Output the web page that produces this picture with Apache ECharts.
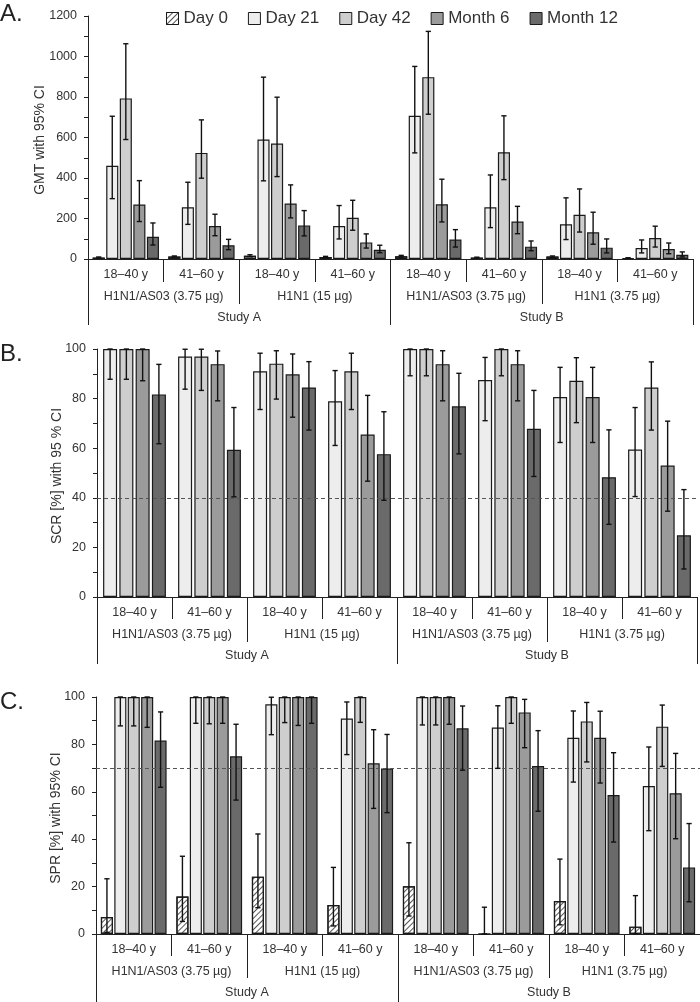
<!DOCTYPE html>
<html><head><meta charset="utf-8">
<script src="https://cdn.jsdelivr.net/npm/echarts@6/dist/echarts.min.js"></script>
<style>html,body{margin:0;padding:0;background:#fff}#c{width:700px;height:1002px}</style>
</head><body><div id="c"></div>
<script>
// ---------- categories ----------
const ageGroups = ['18–40 y','41–60 y','18–40 y','41–60 y','18–40 y','41–60 y','18–40 y','41–60 y'];
const vaccineGroups = ['H1N1/AS03 (3.75 µg)','H1N1 (15 µg)','H1N1/AS03 (3.75 µg)','H1N1 (3.75 µg)'];
const studies = ['Study A','Study B'];
const timepoints = ['Day 0','Day 21','Day 42','Month 6','Month 12'];
const panelLetters = ['A.','B.','C.'];
const yTitles = ['GMT with 95% CI','SCR [%] with 95 % CI','SPR [%] with 95% CI'];

// ---------- Panel A: GMT ----------
const gmtDay0    = [7, 12, 16, 10, 13, 7, 12, 5];
const gmtDay0Lo  = [5, 9, 11, 7, 9, 5, 8, 4];
const gmtDay0Hi  = [10, 15, 21, 13, 18, 9, 15, 6];
const gmtDay21   = [460, 255, 590, 163, 707, 255, 171, 54];
const gmtDay21Lo = [298, 171, 386, 99, 524, 155, 96, 30];
const gmtDay21Hi = [705, 379, 898, 264, 951, 415, 302, 94];
const gmtDay42   = [793, 524, 570, 204, 898, 527, 218, 104];
const gmtDay42Lo = [590, 399, 407, 142, 715, 392, 133, 59];
const gmtDay42Hi = [1063, 687, 799, 290, 1124, 707, 346, 162];
const gmtM6      = [269, 163, 274, 82, 270, 185, 132, 49];
const gmtM6Lo    = [185, 115, 203, 54, 183, 125, 73, 26];
const gmtM6Hi    = [387, 221, 366, 124, 394, 260, 231, 79];
const gmtM12     = [110, 68, 166, 46, 96, 61, 56, 21];
const gmtM12Lo   = [69, 46, 114, 31, 59, 41, 30, 10];
const gmtM12Hi   = [178, 97, 239, 68, 145, 89, 99, 35];

// ---------- Panel B: SCR ----------
const scrDay21   = [100, 97.0, 91.0, 78.9, 100, 87.5, 80.6, 59.5];
const scrDay21Lo = [87.8, 83.8, 75.6, 61.1, 89.2, 71.1, 62.3, 40.5];
const scrDay21Hi = [100, 99.9, 98.3, 91.3, 100, 96.6, 92.6, 76.4];
const scrDay42   = [100, 97.0, 94.1, 91.0, 100, 100, 87.2, 84.5];
const scrDay42Lo = [87.8, 83.3, 79.8, 75.6, 89.2, 89.2, 70.3, 67.3];
const scrDay42Hi = [100, 99.9, 99.3, 98.3, 100, 100, 96.5, 94.8];
const scrM6      = [100, 93.9, 89.8, 65.5, 93.9, 93.9, 80.6, 53.0];
const scrM6Lo    = [87.2, 79.1, 72.5, 46.7, 79.1, 79.1, 62.3, 34.6];
const scrM6Hi    = [100, 99.2, 98.0, 81.3, 99.3, 99.3, 92.6, 70.9];
const scrM12     = [81.7, 59.4, 84.5, 57.6, 76.9, 67.8, 48.3, 24.9];
const scrM12Lo   = [61.8, 40.4, 67.3, 39.0, 57.7, 48.6, 29.3, 11.3];
const scrM12Hi   = [93.8, 76.4, 94.9, 74.7, 90.2, 83.3, 67.4, 43.3];
const scrThreshold = 40;

// ---------- Panel C: SPR ----------
const sprDay0    = [7.2, 15.8, 24.2, 12.2, 20.1, 0, 13.9, 3.1];
const sprDay0Lo  = [0.7, 5.3, 11.1, 3.4, 7.6, 0, 3.9, 0.1];
const sprDay0Hi  = [23.3, 32.8, 42.2, 28.1, 38.5, 11.3, 31.6, 16.2];
const sprDay21   = [100, 100, 96.9, 90.9, 100, 87.1, 82.8, 62.4];
const sprDay21Lo = [87.8, 88.9, 84.1, 75.7, 88.2, 69.9, 64.1, 43.6];
const sprDay21Hi = [100, 100, 99.9, 97.9, 100, 96.3, 94.1, 78.9];
const sprDay42   = [100, 100, 100, 100, 100, 100, 89.7, 87.5];
const sprDay42Lo = [87.8, 88.7, 89.2, 89.3, 88.2, 88.9, 72.6, 70.7];
const sprDay42Hi = [100, 100, 100, 100, 100, 100, 97.7, 96.6];
const sprM6      = [100, 100, 100, 72.0, 100, 93.5, 82.8, 59.4];
const sprM6Lo    = [87.2, 88.9, 88.0, 53.0, 88.5, 78.6, 63.7, 40.2];
const sprM6Hi    = [100, 100, 100, 86.2, 100, 99.0, 94.0, 76.2];
const sprM12     = [81.6, 75.0, 100, 69.8, 86.8, 70.9, 58.6, 28.1];
const sprM12Lo   = [61.9, 56.5, 88.9, 51.2, 69.1, 51.8, 38.8, 13.6];
const sprM12Hi   = [93.7, 88.5, 100, 84.2, 96.2, 85.8, 76.5, 46.6];
const sprThreshold = 70;

// ---------- styling ----------
const FONT = '"Liberation Sans", Arial, Helvetica, sans-serif';
const TXT = '#333';
const LINE = '#222';
const fills = {'Day 0':'#ffffff','Day 21':'#ededed','Day 42':'#cecece','Month 6':'#9b9b9b','Month 12':'#6a6a6a'};
const hatch = {symbol:'rect', symbolSize:1, color:'#555', dashArrayX:[1,0], dashArrayY:[1,2.2], rotation:-Math.PI/4};

const grids = [
  {left:88, top:16, width:605, height:243},
  {left:97, top:349, width:600, height:248},
  {left:96, top:697, width:604, height:237}
];
const tickLens = [[23,45,66],[22,45,67],[22,44,68]];
const barLayout = [{bw:0.16, gap:0.12},{bw:0.187, gap:0.16},{bw:0.16, gap:0.11}];
const titlePos = [[40,140],[57,476],[56,818]];
const letterTop = [2, 342, 690];

const panels = [
  {max:1200, interval:200, threshold:null, series:[
    ['Day 0', gmtDay0, gmtDay0Lo, gmtDay0Hi],
    ['Day 21', gmtDay21, gmtDay21Lo, gmtDay21Hi],
    ['Day 42', gmtDay42, gmtDay42Lo, gmtDay42Hi],
    ['Month 6', gmtM6, gmtM6Lo, gmtM6Hi],
    ['Month 12', gmtM12, gmtM12Lo, gmtM12Hi]]},
  {max:100, interval:20, threshold:scrThreshold, series:[
    ['Day 21', scrDay21, scrDay21Lo, scrDay21Hi],
    ['Day 42', scrDay42, scrDay42Lo, scrDay42Hi],
    ['Month 6', scrM6, scrM6Lo, scrM6Hi],
    ['Month 12', scrM12, scrM12Lo, scrM12Hi]]},
  {max:100, interval:20, threshold:sprThreshold, series:[
    ['Day 0', sprDay0, sprDay0Lo, sprDay0Hi],
    ['Day 21', sprDay21, sprDay21Lo, sprDay21Hi],
    ['Day 42', sprDay42, sprDay42Lo, sprDay42Hi],
    ['Month 6', sprM6, sprM6Lo, sprM6Hi],
    ['Month 12', sprM12, sprM12Lo, sprM12Hi]]}
];

const xAxis = [], yAxis = [], series = [];
function catAxis(gi, data, len, margin, showLine) {
  return {
    gridIndex: gi, type:'category', data: data, position:'bottom', offset:0,
    axisLine:{show:showLine, onZero:false, lineStyle:{color:LINE, width:1}},
    axisTick:{show:true, length:len, alignWithLabel:false, interval:0, lineStyle:{color:LINE, width:1}},
    axisLabel:{show:true, interval:0, margin:margin, fontSize:12.5, color:TXT, fontFamily:FONT, hideOverlap:false},
    splitLine:{show:false}
  };
}

function errRender(n, idx, bwFrac, gapFrac) {
  return function(params, api) {
    const x = api.value(0), lo = api.value(1), hi = api.value(2);
    const band = api.size([1, 0])[0];
    const bw = band * bwFrac, step = bw * (1 + gapFrac);
    const off = (idx - (n - 1) / 2) * step;
    const pLo = api.coord([x, lo]), pHi = api.coord([x, hi]);
    const cx = pLo[0] + off, cap = 2.6;
    const st = {stroke:'#111', lineWidth:1.4};
    return {type:'group', children:[
      {type:'line', shape:{x1:cx, y1:pLo[1], x2:cx, y2:pHi[1]}, style:st},
      {type:'line', shape:{x1:cx-cap, y1:pHi[1], x2:cx+cap, y2:pHi[1]}, style:st},
      {type:'line', shape:{x1:cx-cap, y1:pLo[1], x2:cx+cap, y2:pLo[1]}, style:st}
    ]};
  };
}

panels.forEach((p, gi) => {
  const xi = xAxis.length;
  xAxis.push(catAxis(gi, ageGroups, tickLens[gi][0], 9, true));
  xAxis.push(catAxis(gi, vaccineGroups, tickLens[gi][1], 31, false));
  xAxis.push(catAxis(gi, studies, tickLens[gi][2], 52, false));
  yAxis.push({
    gridIndex: gi, type:'value', min:0, max:p.max, interval:p.interval,
    axisLine:{show:true, lineStyle:{color:LINE, width:1}},
    axisTick:{show:true, length:4, lineStyle:{color:LINE}},
    minorTick:{show:true, splitNumber:2, length:4, lineStyle:{color:LINE}},
    splitLine:{show:false}, minorSplitLine:{show:false},
    axisLabel:{margin:11, fontSize:12.5, color:TXT, fontFamily:FONT, formatter: v => String(v)}
  });
  const n = p.series.length;
  const L = barLayout[gi];
  p.series.forEach((s, idx) => {
    const [name, vals, lo, hi] = s;
    const bar = {
      name: name, type:'bar', xAxisIndex: xi, yAxisIndex: gi,
      data: vals, barWidth: (L.bw*100)+'%', barGap: (L.gap*100)+'%',
      itemStyle:{color:fills[name], borderColor:'#1a1a1a', borderWidth:1.2},
      emphasis:{disabled:true}, z:2
    };
    if (name === 'Day 0') bar.itemStyle.decal = hatch;
    if (idx === 0 && p.threshold !== null) {
      bar.markLine = {silent:true, symbol:['none','none'], label:{show:false},
        lineStyle:{color:'#555', type:[4,3], width:1}, data:[{yAxis:p.threshold}]};
    }
    series.push(bar);
    series.push({
      name: 'err-'+name, type:'custom', xAxisIndex: xi, yAxisIndex: gi,
      data: vals.map((v, i) => [i, lo[i], hi[i]]),
      encode:{x:0, y:[1,2]}, renderItem: errRender(n, idx, L.bw, L.gap), z:5, silent:true
    });
  });
});

const graphics = [];
panelLetters.forEach((t, i) => graphics.push({
  type:'text', left:0, top:letterTop[i],
  style:{text:t, fontSize:24, fill:'#222', fontFamily:FONT}
}));
yTitles.forEach((t, i) => graphics.push({
  type:'text', x:titlePos[i][0], y:titlePos[i][1], rotation:Math.PI/2,
  style:{text:t, fontSize:14, fill:TXT, fontFamily:FONT, align:'center', verticalAlign:'middle'}
}));

const chart = echarts.init(document.getElementById('c'), null, {renderer:'canvas'});
chart.setOption({
  animation:false,
  backgroundColor:'#fff',
  grid: grids.map(g => Object.assign({containLabel:false, outerBoundsMode:'none'}, g)),
  xAxis: xAxis, yAxis: yAxis, series: series,
  legend:{
    data: timepoints, left:161, top:5, icon:'rect', itemWidth:12, itemHeight:12, itemGap:20,
    textStyle:{fontSize:17, color:TXT, fontFamily:FONT},
    itemStyle:{borderColor:'#1a1a1a', borderWidth:1}
  },
  graphic: graphics
});
</script></body></html>
